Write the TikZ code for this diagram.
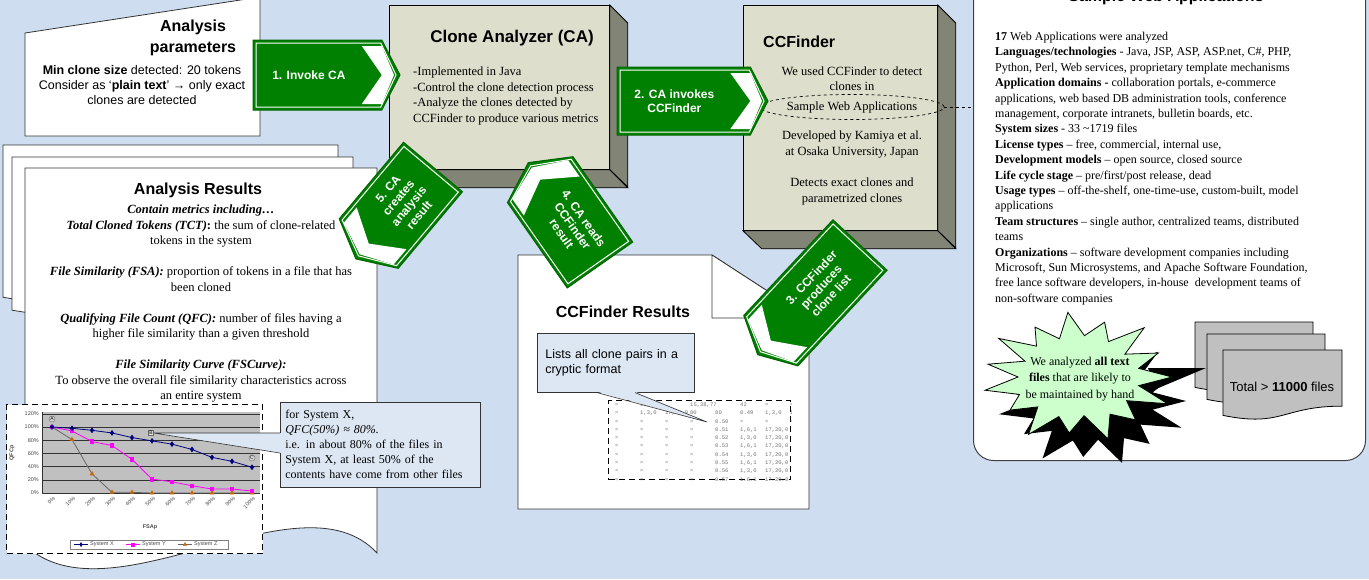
\documentclass[tikz,border=0pt]{standalone}
\usepackage{fontspec}
\setmainfont{Liberation Serif}
\setsansfont{Liberation Sans}
\setmonofont{Liberation Mono}
\usetikzlibrary{shapes.geometric,positioning,plotmarks}

\definecolor{bgblue}{RGB}{206,222,240}
\definecolor{facegray}{RGB}{221,223,204}
\definecolor{sidegray}{RGB}{130,132,118}
\definecolor{arrowgreen}{RGB}{0,128,0}
\definecolor{notefill}{RGB}{221,231,244}
\definecolor{starfill}{RGB}{204,255,204}
\definecolor{docgray}{RGB}{192,192,192}
\definecolor{sysx}{RGB}{0,0,128}
\definecolor{sysy}{RGB}{255,0,255}
\definecolor{sysz}{RGB}{204,102,0}

% green step arrow: name, back centre, angle, length, width, text angle, text
\newcommand{\flowarrow}[7]{%
  \begin{scope}[shift={#2}, rotate=#3]
    \pgfmathsetmacro{\arl}{#4}\pgfmathsetmacro{\arw}{#5/2}\pgfmathsetmacro{\arh}{0.26*#5}
    \filldraw[draw=arrowgreen!80!black, fill=arrowgreen, line width=1pt] (0,-\arw) -- ({\arl-\arh},-\arw) -- (\arl,0) -- ({\arl-\arh},\arw) -- (0,\arw) -- cycle;
    \draw[white, line width=1pt] (3,{-\arw+3}) -- ({\arl-\arh-1},{-\arw+3}) -- ({\arl-4},0) -- ({\arl-\arh-1},{\arw-3}) -- (3,{\arw-3}) -- cycle;
    \fill[white] ({\arl-\arh-20},{-\arw+6}) -- ({\arl-\arh},{-\arw+6}) -- ({\arl-6},0) -- ({\arl-\arh},{\arw-6}) -- ({\arl-\arh-20},{\arw-6}) -- ({\arl-\arh},0) -- cycle;
    \node[steplabel, rotate=#6] (#1) at ({0.38*\arl},0) {#7};
  \end{scope}}

% page with wavy bottom: style, x, y, width, height
\newcommand{\docshape}[5]{%
  \filldraw[#1] (#2,#3) -- ++(#4,0) -- ++(0,{0.802*#5}) .. controls +({-0.5*#4},0) and +({0.5*#4},{0.1735*#5}) .. ({#2},{#3+0.934*#5}) -- cycle;}

\newcommand{\cc}[1]{\makebox[25pt][l]{#1}}

\begin{document}
\begin{tikzpicture}[x=1pt, y=-1pt,
  title/.style={font=\sffamily\bfseries\fontsize{16}{21}\selectfont, inner sep=0pt},
  body/.style={font=\fontsize{12.5}{15.5}\selectfont, inner sep=0pt},
  sans/.style={font=\sffamily\fontsize{12.5}{15}\selectfont, inner sep=0pt},
  face/.style={draw=black, fill=facegray, line width=0.8pt, inner sep=0pt},
  side/.style={draw=black, fill=sidegray, line width=0.8pt},
  paper/.style={draw=black!80, fill=white, line width=0.8pt},
  stack/.style={draw=black, fill=docgray, line width=0.8pt},
  note/.style={draw=black!80, fill=notefill, line width=0.6pt, anchor=north west},
  frame/.style={draw=black, dash pattern=on 6pt off 4pt, line width=1.3pt, fill=white, anchor=north west, inner sep=0pt},
  steplabel/.style={text=white, font=\sffamily\bfseries\fontsize{12}{13.5}\selectfont, align=center, inner sep=0pt},
  tick/.style={font=\sffamily\fontsize{5.5}{6}\selectfont, text=black!70, inner sep=1pt},
  cryptic/.style={font=\ttfamily\fontsize{5.5}{6}\selectfont, text=black!55, inner sep=0pt, anchor=west}
]
\useasboundingbox (0,0) rectangle (1369,579);
\clip (0,0) rectangle (1369,579);
\fill[bgblue] (0,0) rectangle (1369,579);

% sample web applications
\node[draw=black!75, fill=white, line width=1pt, rounded corners=20pt, minimum width=392, minimum height=480, anchor=north west] (webapps) at (973,-20) {};
\node[title, anchor=base] (webtitle) at (1166,1) {Sample Web Applications};
\node[font=\fontsize{12}{15.4}\selectfont, inner sep=0pt, align=left, anchor=north west] (facts) at (995,32) {%
\textbf{17} Web Applications were analyzed\\
\textbf{Languages/technologies} - Java, JSP, ASP, ASP.net, C\#, PHP,\\
Python, Perl, Web services, proprietary template mechanisms\\
\textbf{Application domains -} collaboration portals, e-commerce\\
applications, web based DB administration tools, conference\\
management, corporate intranets, bulletin boards, etc.\\
\textbf{System sizes} - 33 \textasciitilde1719 files\\
\textbf{License types} – free, commercial, internal use,\\
\textbf{Development models} – open source, closed source\\
\textbf{Life cycle stage} – pre/first/post release, dead\\
\textbf{Usage types} – off-the-shelf, one-time-use, custom-built, model\\
applications\\
\textbf{Team structures} – single author, centralized teams, distributed\\
teams\\
\textbf{Organizations} – software development companies including\\
Microsoft, Sun Microsystems, and Apache Software Foundation,\\
free lance software developers, in-house\ \ development teams of\\
non-software companies};

\docshape{stack}{1195}{322}{118}{70}
\docshape{stack}{1207}{334}{118}{70}
\docshape{stack}{1223}{350}{119}{70}
\node[font=\sffamily\fontsize{13}{15}\selectfont, inner sep=0pt] (total) at (1282,387) {Total > \textbf{11000} files};

\coordinate (burst) at (1078,377);
\coordinate (filetip) at (1206,368);
\def\starpts{12/62,24/98,36/60,48/86,60/64,72/97,84/58,96/84,108/62,120/99,132/60,144/84,156/64,168/95,180/60,192/92,204/58,216/98,228/62,240/86,252/60,264/97,276/62,288/86,300/61,312/99,324/58,336/88,348/62}
\begin{scope}[shift={(1092,401)}, yscale=0.67]
  \fill[black] (0:94) \foreach \a/\r in \starpts { -- (\a:\r) } -- cycle;
\end{scope}
\fill[black] ([shift={(70,-9)}]burst) -- (filetip) -- ([shift={(78,12)}]burst) -- cycle;
\begin{scope}[shift={(burst)}, yscale=0.67]
  \filldraw[fill=starfill, draw=black, line width=0.8pt] (0:94) \foreach \a/\r in \starpts { -- (\a:\r) } -- cycle;
\end{scope}
\node[font=\fontsize{12}{16.5}\selectfont, align=center, inner sep=0pt] (burstnote) at (1080,379) {We analyzed \textbf{all text}\\\textbf{files} that are likely to\\be maintained by hand};

% analysis parameters
\filldraw[paper] (25,33) -- (260,-3) -- (260,136) -- (25,136) -- cycle;
\node[title, align=center] (paramtitle) at (193,38) {Analysis\\parameters};
\node[sans, align=center] (params) at (142,85) {\textbf{Min clone size} detected: 20 tokens\\Consider as ‘\textbf{plain text}’ → only exact\\clones are detected};

% analysis results
\docshape{paper}{3}{145}{335}{163}
\docshape{paper}{12}{157}{341}{164}
\filldraw[paper] (25,168) -- (377,168) -- (377,553) .. controls (300,470) and (110,625) .. (25,545) -- cycle;
\node[title] (restitle) at (198,190) {Analysis Results};
\node[body, align=center, anchor=north] (metrics) at (201,205) {%
\textbf{\textit{Contain metrics including…}}\\
\textbf{\textit{Total Cloned Tokens (TCT)}:} the sum of clone-related\\
tokens in the system\\[15.5pt]
\textbf{\textit{File Similarity (FSA):}} proportion of tokens in a file that has\\
been cloned\\[15.5pt]
\textbf{\textit{Qualifying File Count (QFC):}} number of files having a\\
higher file similarity than a given threshold\\[15.5pt]
\textbf{\textit{File Similarity Curve (FSCurve):}}\\
To observe the overall file similarity characteristics across\\
an entire system};

% file similarity chart
\node[frame, minimum width=256, minimum height=149] (chart) at (6,404) {};
\fill[docgray] (42,412) rectangle (260,493);
\draw[black!80, line width=0.5pt] (42,412) -- (42,493);
\foreach \g in {0,20,...,120} {
  \draw[black!80, line width=0.5pt] (42,{493-0.66*\g}) -- (260,{493-0.66*\g});
  \node[tick, anchor=east] at (40,{493-0.66*\g}) {\g\%};
}
\foreach \c [count=\i from 0] in {0,10,...,100}
  \node[tick, rotate=45, anchor=east] at ({55+20*\i},497) {\c\%};
\node[tick, font=\sffamily\bfseries\fontsize{5.5}{6}\selectfont, rotate=90] (qfcaxis) at (12,453) {QFCp};
\node[tick, font=\sffamily\bfseries\fontsize{5.5}{6}\selectfont] (fsaaxis) at (150,527) {FSAp};
\begin{scope}[shift={(52,493)}, x=20pt, y=0.66pt]
  \draw[black!60, line width=0.8pt, mark=triangle*, mark size=2pt, mark options={draw=sysz, fill=sysz}] plot coordinates {(0,100) (1,81) (2,29) (3,1) (4,1) (5,0) (6,0) (7,0) (8,0) (9,0) (10,0)};
  \draw[sysy, line width=0.8pt, mark=square*, mark size=1.8pt] plot coordinates {(0,100) (1,94) (2,78) (3,72) (4,51) (5,21) (6,17) (7,11) (8,6) (9,6) (10,3)};
  \draw[sysx, line width=0.8pt, mark=diamond*, mark size=2.2pt] plot coordinates {(0,100) (1,98) (2,95) (3,91) (4,84) (5,79) (6,74) (7,66) (8,54) (9,48) (10,39)};
\end{scope}
\node[circle, draw=black!60, fill=black!15, inner sep=0.4pt, font=\sffamily\fontsize{5}{5}\selectfont] (ptA) at (52,419) {A};
\node[draw=black!60, fill=black!10, inner sep=0.8pt, font=\sffamily\fontsize{5}{5}\selectfont] (ptB) at (151,433) {B};
\node[circle, draw=black!60, fill=black!15, inner sep=0.4pt, font=\sffamily\fontsize{5}{5}\selectfont] (ptC) at (252,458) {C};
\node[draw=black!50, fill=white, minimum width=158, minimum height=9, inner sep=0pt, anchor=north west] (legend) at (70,540) {};
\draw[sysx, mark=diamond*, mark size=2pt, mark indices={2}] plot coordinates {(74,544.5) (81,544.5) (88,544.5)};
\node[tick, anchor=west] at (89,544.5) {System X};
\draw[sysy, mark=square*, mark size=1.6pt, mark indices={2}] plot coordinates {(126,544.5) (133,544.5) (140,544.5)};
\node[tick, anchor=west] at (141,544.5) {System Y};
\draw[black!60, mark=triangle*, mark size=2pt, mark options={draw=sysz, fill=sysz}, mark indices={2}] plot coordinates {(178,544.5) (185,544.5) (192,544.5)};
\node[tick, anchor=west] at (193,544.5) {System Z};

\node[note, minimum width=200, minimum height=85, text width=190, inner xsep=5pt, align=left, font=\fontsize{12}{15}\selectfont] (qfcnote) at (280,402) {for System X,\\\textit{QFC(50\%) ≈ 80\%.}\\i.e. in about 80\% of the files in\\System X, at least 50\% of the\\contents have come from other files};
\fill[notefill] ([shift={(1,31)}]qfcnote.north west) -- (ptB.east) -- ([shift={(1,51)}]qfcnote.north west) -- cycle;
\draw[black!80, line width=0.6pt] ([yshift=-31pt]qfcnote.north west) -- (ptB.east) -- ([yshift=-51pt]qfcnote.north west);

% clone analyzer
\node[face, minimum width=220, minimum height=164, anchor=north west] (ca) at (389,5) {};
\filldraw[side] (ca.north east) -- ++(18,18) -- ++(0,164) -- (ca.south east) -- cycle;
\filldraw[side] (ca.south west) -- (ca.south east) -- ++(18,18) -- ++(-220,0) -- cycle;
\node[title, font=\sffamily\bfseries\fontsize{17}{20}\selectfont] (catitle) at (512,38) {Clone Analyzer (CA)};
\node[body, align=left, anchor=north west] (cabody) at (413,67) {-Implemented in Java\\-Control the clone detection process\\-Analyze the clones detected by\\CCFinder to produce various metrics};

% ccfinder
\node[face, minimum width=194, minimum height=225, anchor=north west] (ccf) at (743,5) {};
\filldraw[side] (ccf.north east) -- ++(18,18) -- ++(0,225) -- (ccf.south east) -- cycle;
\filldraw[side] (ccf.south west) -- (ccf.south east) -- ++(18,18) -- ++(-194,0) -- cycle;
\node[title, anchor=west] (ccftitle) at (763,42) {CCFinder};
\node[body, ellipse, draw=black, dashed, line width=0.7pt, minimum width=158, minimum height=25] (swa) at (852,107) {Sample Web Applications};
\node[body, align=center, above=3pt of swa] (used) {We used CCFinder to detect\\clones in};
\node[body, align=center, below=11pt of swa] (kamiya) {Developed by Kamiya et al.\\at Osaka University, Japan};
\node[body, align=center, below=20pt of kamiya] (detects) {Detects exact clones and\\parametrized clones};

% ccfinder results
\filldraw[paper] (518,255) -- (712,255) -- (809,318) -- (809,509) -- (518,509) -- cycle;
\filldraw[paper] (712,255) -- (712,318) -- (809,318) -- cycle;
\node[title] (ccfres) at (623,312) {CCFinder Results};
\node[frame, minimum width=182, minimum height=79] (pairs) at (608,400) {};
\begin{scope}
  \clip (pairs.north west) rectangle (pairs.south east);
  \node[cryptic] at (615,405) {\cc{=}\cc{10,}\cc{}\cc{15,38,77}\cc{}\cc{42}\cc{=}\cc{=}};
  \node[cryptic] at (615,413.3) {\cc{=}\cc{1,3,0}\cc{17,20,0}\cc{80}\cc{80}\cc{0.49}\cc{1,3,0}\cc{17,20,0}};
  \node[cryptic] at (615,421.6) {\cc{=}\cc{=}\cc{=}\cc{=}\cc{0.50}\cc{=}\cc{=}\cc{=}};
  \foreach \v/\w [count=\k from 3] in {0.51/{1,6,1},0.52/{1,3,0},0.53/{1,6,1},0.54/{1,3,0},0.55/{1,6,1},0.56/{1,3,0},0.57/{1,6,1}}
    \node[cryptic] at (615,{405+8.3*\k}) {\cc{=}\cc{=}\cc{=}\cc{=}\cc{\v}\cc{\w}\cc{17,20,0}};
\end{scope}
\node[note, minimum width=157, minimum height=59, text width=141, inner xsep=8pt, align=left, font=\sffamily\fontsize{12.5}{15}\selectfont] (pairnote) at (537,333) {Lists all clone pairs in a\\cryptic format};
\coordinate (pairtip) at (707,422);
\fill[notefill] ([shift={(60,-1)}]pairnote.south west) -- (pairtip) -- ([shift={(98,-1)}]pairnote.south west) -- cycle;
\draw[black!80, line width=0.6pt] ([xshift=60pt]pairnote.south west) -- (pairtip) -- ([xshift=98pt]pairnote.south west);

% steps
\flowarrow{invoke}{(253,75)}{0}{147}{70}{0}{1. Invoke CA}
\flowarrow{invokes}{(617,101)}{0}{151}{68}{0}{2. CA invokes\\CCFinder}
\flowarrow{produces}{(860,245)}{227}{150}{74}{47}{3. CCFinder\\produces\\clone list}
\flowarrow{reads}{(600,265)}{125}{125}{80}{-55}{4. CA reads\\CCFinder\\result}
\flowarrow{creates}{(433,167)}{230}{120}{77}{50}{5. CA\\creates\\analysis\\result}

\draw[dashed, line width=0.8pt] (swa.east) -- (swa.east -| webapps.west);
\end{tikzpicture}
\end{document}
